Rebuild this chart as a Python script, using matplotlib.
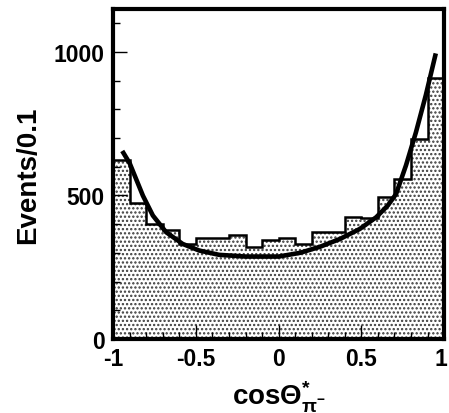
import matplotlib
matplotlib.use("Agg")
import matplotlib.pyplot as plt
import matplotlib.transforms as mtransforms
import numpy as np
from matplotlib.ticker import MultipleLocator

plt.rcParams['font.family'] = ['Liberation Sans', 'DejaVu Sans']
plt.rcParams['font.weight'] = 'bold'
plt.rcParams['mathtext.fontset'] = 'custom'
plt.rcParams['mathtext.rm'] = 'Liberation Sans:bold'
plt.rcParams['mathtext.it'] = 'Liberation Sans:bold'
plt.rcParams['mathtext.bf'] = 'Liberation Sans:bold'
plt.rcParams['hatch.linewidth'] = 1.1
plt.rcParams['hatch.color'] = '#3a3a3a'

# Histogram (20 bins of width 0.1 from -1 to 1)
bin_edges = [-1.0, -0.9, -0.8, -0.7, -0.6, -0.5, -0.4, -0.3, -0.2, -0.1, 0.0,
             0.1, 0.2, 0.3, 0.4, 0.5, 0.6, 0.7, 0.8, 0.9, 1.0]
counts = [625, 474, 399, 380, 331, 350, 350, 362, 319, 344,
          350, 331, 373, 373, 424, 421, 494, 557, 695, 908]

# Fit curve, points
fit_x = [-0.945, -0.90, -0.82, -0.76, -0.68, -0.58, -0.48, -0.36, -0.20,
         0.00, 0.13, 0.25, 0.37, 0.49, 0.59, 0.66, 0.71, 0.77, 0.83,
         0.89, 0.95]
fit_y = [655, 612, 499, 430, 372, 331, 308, 293, 287,
         287, 300, 321, 348, 383, 424, 465, 505, 605, 720,
         850, 995]

fig = plt.figure(figsize=(4.49, 4.14), dpi=100)
ax = fig.add_axes([0.252, 0.179, 0.737, 0.797])

edges = np.array(bin_edges)
centers = (edges[:-1] + edges[1:]) / 2
widths = np.diff(edges)
ax.bar(centers, counts, width=widths, color='white', edgecolor='#3a3a3a',
       linewidth=0, hatch='....', zorder=1)
ax.stairs(counts, edges, color='black', linewidth=1.8, baseline=None, zorder=2)
ax.plot(fit_x, fit_y, color='black', linewidth=3.3, solid_capstyle='butt',
        solid_joinstyle='round', zorder=3)

ax.set_xlim(-1, 1)
ax.set_ylim(0, 1150)
ax.xaxis.set_minor_locator(MultipleLocator(0.1))
ax.yaxis.set_minor_locator(MultipleLocator(100))
ax.set_xticks([-1, -0.5, 0, 0.5, 1])
ax.set_xticklabels(['-1', '-0.5', '0', '0.5', '1'])
ax.set_yticks([0, 500, 1000])
ax.set_yticklabels(['0', '500', '1000'])
ax.tick_params(which='both', direction='in', top=False, right=False, width=1)
ax.tick_params(which='major', length=10, labelsize=16.5, pad=6)
ax.tick_params(which='minor', length=5)
for s in ax.spines.values():
    s.set_linewidth(3)
    s.set_zorder(5)

# nudge the last x tick label so it stays inside the figure
last = ax.get_xticklabels()[-1]
last.set_transform(last.get_transform() +
                   mtransforms.ScaledTranslation(-3 / 100, 0, fig.dpi_scale_trans))

ax.set_ylabel('Events/0.1', fontsize=20, fontweight='bold', labelpad=9)
ax.set_xlabel(r'$\mathbf{cos\Theta^{*}_{\pi^{-}}}$', fontsize=20, labelpad=6)

fig.savefig('out.png', dpi=100)
